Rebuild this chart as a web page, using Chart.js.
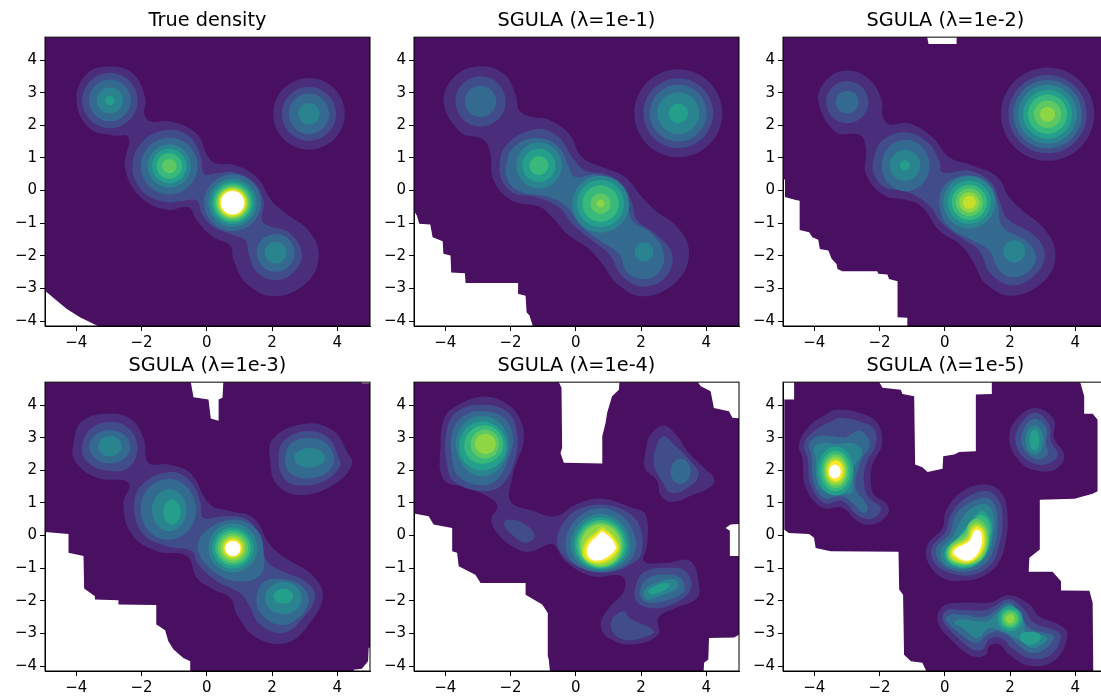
<!DOCTYPE html>
<html>
<head>
<meta charset="utf-8">
<title>SGULA densities</title>
<script src="https://cdn.jsdelivr.net/npm/chart.js@4"></script>
<style>
  html, body { margin: 0; padding: 0; background: #fff; width: 1101px; height: 698px; overflow: hidden; }
  canvas { position: absolute; }
</style>
</head>
<body>
<canvas id="c0" style="left:0;top:0"></canvas>
<canvas id="c1" style="left:369px;top:0"></canvas>
<canvas id="c2" style="left:738px;top:0"></canvas>
<canvas id="c3" style="left:0;top:345px"></canvas>
<canvas id="c4" style="left:369px;top:345px"></canvas>
<canvas id="c5" style="left:738px;top:345px"></canvas>
<script>
const panelTitles = ['True density', 'SGULA (λ=1e-1)', 'SGULA (λ=1e-2)', 'SGULA (λ=1e-3)', 'SGULA (λ=1e-4)', 'SGULA (λ=1e-5)'];
const xTicks = [-4, -2, 0, 2, 4];
const yTicks = [-4, -3, -2, -1, 0, 1, 2, 3, 4];

// band colours, index = contour level (last one is above the top level, so white)
const levelColors = ['#490f60', '#4a2d7b', '#414c8b', '#346a90', '#2a8490', '#239f8b', '#39b87b', '#5ec962', '#8fd644', '#c5e02a', '#fce72b', '#ffffff'];

const edge0 = [-5.1,4.8, 5.1,4.8, 5.1,-4.3, -3.34,-4.3, -3.34,-4.15, -3.89,-3.88, -4.29,-3.63, -4.66,-3.32, -4.95,-3.08, -5.1,-2.96];
const edge1 = [-5.1,4.8, 5.1,4.8, 5.1,-4.3, -1.32,-4.3, -1.32,-4.15, -1.42,-3.83, -1.51,-3.73, -1.54,-3.22, -1.75,-3.17, -1.77,-2.83, -3.38,-2.83, -3.40,-2.53, -3.82,-2.51, -3.84,-1.99, -4.06,-1.94, -4.08,-1.55, -4.39,-1.43, -4.46,-1.04, -4.80,-1.02, -4.87,-.77, -4.94,-.66, -5.1,-.66];
const edge2 = [-5.1,4.8, -.56,4.8, -.50,4.49, .36,4.49, .36,4.8, 5.2,4.8, 5.2,-4.3, -1.15,-4.3, -1.15,-3.9, -1.45,-3.88, -1.45,-2.78, -1.71,-2.71, -1.76,-2.57, -2.04,-2.55, -2.07,-2.47, -3.14,-2.47, -3.29,-2.40, -3.32,-2.25, -3.47,-2.09, -3.57,-1.84, -3.83,-1.79, -3.88,-1.51, -4.06,-1.43, -4.16,-1.28, -4.45,-1.21, -4.45,-.31, -4.57,-.29, -4.90,-.20, -4.90,.34, -5.1,.34];
const edge3 = [-5.1,4.8, -.51,4.8, -.41,4.24, .05,4.17, .12,3.59, .36,3.52, .36,4.17, .48,4.22, .51,4.8, 4.75,4.8, 4.75,4.67, 5.1,4.67, 5.1,-3.44, 4.96,-3.44, 4.94,-3.85, 4.75,-4.08, 4.50,-4.11, 4.48,-4.3, -.49,-4.3, -.51,-3.85, -.72,-3.75, -1.02,-3.49, -1.18,-3.24, -1.28,-2.90, -1.53,-2.73, -1.55,-2.13, -2.71,-2.11, -2.71,-1.98, -3.43,-1.96, -3.43,-1.86, -3.76,-1.62, -3.78,-.63, -4.24,-.53, -4.24,.05, -4.95,.11, -5.1,.11];
const edge4 = [-5.1,4.8, -.57,4.8, -.44,4.53, -.42,2.69, -.47,2.53, -.37,2.23, .81,2.21, .81,3.04, .91,3.45, .96,3.76, 1.11,4.27, 1.32,4.47, 1.34,4.8, 3.67,4.8, 3.82,4.58, 4.13,4.42, 4.23,3.91, 4.69,3.81, 4.80,3.61, 5.1,3.59, 5.1,.36, 4.74,.34, 4.59,.23, 4.72,.15, 4.72,-.63, 5.1,-.63, 5.1,-2.98, 4.85,-3.12, 4.08,-3.14, 4.06,-3.80, 3.93,-3.90, 3.91,-4.3, -.78,-4.3, -.83,-3.80, -.86,-3.70, -.86,-2.37, -1.03,-2.11, -1.54,-1.81, -1.54,-1.45, -2.92,-1.45, -3.08,-1.20, -3.59,-.94, -3.64,-.53, -3.79,-.48, -3.79,.23, -4.36,.34, -4.51,.59, -4.92,.67, -5.1,.67];
const edge5 = [-4.62,4.8, -2.07,4.8, -1.91,4.53, -1.35,4.47, -1.30,4.34, -.94,4.27, -.91,2.18, -.69,2.09, -.53,1.95, -.07,2.05, -.05,2.43, .29,2.48, .44,2.56, .93,2.58, .95,4.32, 1.44,4.34, 1.44,4.8, 4.12,4.8, 4.27,4.27, 4.27,3.73, 4.53,3.73, 4.68,3.55, 4.68,1.36, 4.53,1.28, 3.97,1.13, 2.91,1.10, 2.91,-.43, 2.59,-.68, 2.57,-1.11, 3.30,-1.11, 3.56,-1.40, 3.56,-1.68, 4.43,-1.69, 4.53,-2.06, 4.55,-4.3, -.50,-4.3, -.69,-3.90, -1.04,-3.85, -1.25,-3.65, -1.28,-1.81, -1.40,-1.65, -1.42,-.50, -3.50,-.48, -3.96,-.38, -4.01,-.07, -4.16,.05, -4.78,.08, -4.92,.18, -4.92,4.17, -4.62,4.17];

// contours: first number is the level, the rest are x,y pairs going round the contour
const contours0 = [
  [1, -2.97,3.80, -2.25,3.58, -1.88,2.81, -1.92,2.35, -1.74,2.12, -1.12,2.12, -.31,1.74, .05,1.02, .31,.82, .82,.80, 1.53,.41, 1.99,-.31, 2.45,-.72, 3.12,-1.23, 3.43,-1.94, 3.12,-2.76, 2.10,-3.24, 1.23,-2.86, .82,-2.14, .72,-1.69, .20,-1.43, -.31,-.92, -.56,-.51, -1.23,-.59, -2.04,-.20, -2.51,.71, -2.40,1.63, -2.86,1.69, -3.58,1.89, -4.0,2.76, -3.68,3.58],
  [2, -1.15,1.86, -.51,1.63, -.18,1.02, -.08,.51, .31,.53, .82,.56, 1.43,.26, 1.74,-.31, 1.69,-.92, 1.94,-1.10, 2.51,-1.28, 2.91,-1.91, 2.66,-2.50, 2.11,-2.74, 1.53,-2.50, 1.28,-1.94, 1.18,-1.53, .72,-1.33, .20,-1.12, -.15,-.72, -.31,-.31, -.82,-.33, -1.23,-.36, -1.94,-.05, -2.28,.71, -1.94,1.53],
  [2, -2.12,2.76, -2.97,3.61, -3.82,2.76, -2.97,1.91],
  [3, -2.33,2.76, -2.97,3.40, -3.61,2.76, -2.97,2.12],
  [4, -2.57,2.76, -2.97,3.16, -3.37,2.76, -2.97,2.36],
  [5, -2.83,2.76, -2.97,2.90, -3.11,2.76, -2.97,2.62],
  [1, 4.23,2.35, 3.13,3.45, 2.03,2.35, 3.13,1.25],
  [2, 3.96,2.35, 3.13,3.18, 2.30,2.35, 3.13,1.52],
  [3, 3.75,2.35, 3.13,2.97, 2.51,2.35, 3.13,1.73],
  [4, 3.46,2.35, 3.13,2.68, 2.80,2.35, 3.13,2.02],
  [3, -.28,.75, -1.15,1.62, -2.02,.75, -1.15,-.12],
  [4, -.49,.75, -1.15,1.41, -1.81,.75, -1.15,.09],
  [5, -.62,.75, -1.15,1.28, -1.68,.75, -1.15,.22],
  [6, -.76,.75, -1.15,1.14, -1.54,.75, -1.15,.36],
  [7, -.93,.75, -1.15,.97, -1.37,.75, -1.15,.53],
  [3, 2.69,-1.91, 2.11,-1.33, 1.53,-1.91, 2.11,-2.49],
  [4, 2.44,-1.91, 2.11,-1.58, 1.78,-1.91, 2.11,-2.24],
  [3, 1.66,-.37, .79,.50, -.08,-.37, .79,-1.24],
  [4, 1.53,-.37, .79,.37, .05,-.37, .79,-1.11],
  [5, 1.44,-.37, .79,.28, .14,-.37, .79,-1.02],
  [6, 1.37,-.37, .79,.21, .21,-.37, .79,-.95],
  [7, 1.31,-.37, .79,.15, .27,-.37, .79,-.89],
  [8, 1.26,-.37, .79,.10, .32,-.37, .79,-.84],
  [9, 1.22,-.37, .79,.06, .36,-.37, .79,-.80],
  [10, 1.18,-.37, .79,.02, .40,-.37, .79,-.76],
  [11, 1.15,-.37, .79,-.01, .43,-.37, .79,-.73],
];
const contours1 = [
  [1, -2.92,3.81, -2.21,3.58, -1.85,2.96, -1.73,2.45, -1.34,2.25, -.83,2.17, -.21,1.74, .19,1.02, .91,.68, 1.52,.41, 2.03,-.20, 2.44,-.61, 3.11,-1.12, 3.47,-1.89, 3.11,-2.76, 2.09,-3.24, 1.27,-2.86, .81,-2.25, .40,-1.79, -.21,-1.38, -.73,-.82, -1.13,-.49, -1.95,-.31, -2.52,.31, -2.64,1.23, -2.87,1.58, -3.54,1.79, -4.05,2.71, -3.69,3.52],
  [2, -2.15,2.73, -2.92,3.50, -3.69,2.73, -2.92,1.96],
  [3, -2.44,2.73, -2.92,3.21, -3.40,2.73, -2.92,2.25],
  [1, 4.49,2.37, 3.14,3.72, 1.79,2.37, 3.14,1.02],
  [2, 4.21,2.37, 3.14,3.44, 2.07,2.37, 3.14,1.30],
  [3, 4.01,2.37, 3.14,3.24, 2.27,2.37, 3.14,1.50],
  [4, 3.78,2.37, 3.14,3.01, 2.50,2.37, 3.14,1.73],
  [5, 3.44,2.37, 3.14,2.67, 2.84,2.37, 3.14,2.07],
  [2, -1.17,1.89, -.52,1.63, -.11,1.02, .30,.61, .91,.51, 1.42,.20, 1.73,-.41, 1.88,-.92, 2.44,-1.33, 2.95,-1.94, 2.75,-2.66, 2.09,-2.94, 1.43,-2.63, 1.01,-1.94, .50,-1.53, -.11,-1.02, -.52,-.51, -1.24,-.20, -1.85,-.10, -2.20,.20, -2.34,.76, -2.10,1.43],
  [3, -1.16,1.61, -.52,1.33, -.21,.72, -.01,.41, .60,.49, 1.21,.26, 1.57,-.31, 1.73,-.92, 2.34,-1.33, 2.70,-1.94, 2.55,-2.50, 2.09,-2.71, 1.57,-2.50, 1.32,-1.94, .81,-1.58, .19,-1.12, -.27,-.51, -.83,-.20, -1.65,-.05, -2.05,.26, -2.13,.82, -1.85,1.38],
  [4, 2.38,-1.88, 2.09,-1.59, 1.80,-1.88, 2.09,-2.17],
  [4, -.43,.77, -1.13,1.47, -1.83,.77, -1.13,.07],
  [5, -.62,.77, -1.13,1.28, -1.64,.77, -1.13,.26],
  [6, -.84,.77, -1.13,1.06, -1.42,.77, -1.13,.48],
  [4, 1.63,-.42, .76,.45, -.11,-.42, .76,-1.29],
  [5, 1.48,-.40, .76,.32, .04,-.40, .76,-1.12],
  [6, 1.32,-.40, .76,.16, .20,-.40, .76,-.96],
  [7, 1.07,-.40, .76,-.09, .45,-.40, .76,-.71],
  [8, .88,-.40, .76,-.28, .64,-.40, .76,-.52],
];
const contours2 = [
  [1, -2.99,3.68, -2.32,3.42, -1.93,2.76, -1.91,2.30, -1.71,2.04, -1.09,2.06, -.38,1.63, .13,1.02, .85,.77, 1.62,.41, 1.97,-.20, 2.38,-.61, 3.00,-1.12, 3.38,-1.84, 3.15,-2.66, 2.13,-3.22, 1.26,-2.86, .85,-2.15, .44,-1.63, -.17,-1.23, -.69,-.51, -1.20,-.28, -1.86,-.15, -2.42,.51, -2.42,1.23, -2.58,1.69, -3.34,1.79, -3.88,2.76, -3.60,3.42],
  [2, -2.34,2.71, -2.99,3.36, -3.64,2.71, -2.99,2.06],
  [3, -2.64,2.71, -2.99,3.06, -3.34,2.71, -2.99,2.36],
  [1, 4.58,2.34, 3.15,3.77, 1.72,2.34, 3.15,.91],
  [2, 4.35,2.34, 3.15,3.54, 1.95,2.34, 3.15,1.14],
  [3, 4.20,2.34, 3.15,3.39, 2.10,2.34, 3.15,1.29],
  [4, 4.05,2.34, 3.15,3.24, 2.25,2.34, 3.15,1.44],
  [5, 3.90,2.34, 3.15,3.09, 2.40,2.34, 3.15,1.59],
  [6, 3.75,2.34, 3.15,2.94, 2.55,2.34, 3.15,1.74],
  [7, 3.57,2.34, 3.15,2.76, 2.73,2.34, 3.15,1.92],
  [8, 3.38,2.34, 3.15,2.57, 2.92,2.34, 3.15,2.11],
  [2, -1.20,1.79, -.53,1.48, -.17,.92, -.07,.56, .75,.61, 1.41,.26, 1.67,-.31, 1.93,-.87, 2.69,-1.33, 3.05,-1.84, 2.89,-2.45, 2.13,-2.91, 1.41,-2.55, 1.05,-1.84, .54,-1.48, -.07,-1.02, -.53,-.41, -1.20,-.02, -1.81,.08, -2.17,.51, -2.17,1.02, -1.91,1.53],
  [3, -.47,.77, -1.2,1.56, -1.93,.77, -1.2,-.02],
  [3, .75,.46, 1.36,.20, 1.62,-.41, 1.77,-1.12, 2.48,-1.53, 2.79,-2.04, 2.59,-2.45, 2.13,-2.66, 1.67,-2.45, 1.36,-1.84, .85,-1.53, .13,-1.12, -.17,-.41, .03,.20],
  [4, 2.47,-1.86, 2.13,-1.52, 1.79,-1.86, 2.13,-2.2],
  [4, -.75,.77, -1.22,1.24, -1.69,.77, -1.22,.30],
  [5, -1.07,.77, -1.22,.92, -1.37,.77, -1.22,.62],
  [4, 1.55,-.36, .75,.44, -.05,-.36, .75,-1.16],
  [5, 1.41,-.36, .75,.30, .09,-.36, .75,-1.02],
  [6, 1.29,-.36, .75,.18, .21,-.36, .75,-.90],
  [7, 1.17,-.36, .75,.06, .33,-.36, .75,-.78],
  [8, 1.06,-.36, .75,-.05, .44,-.36, .75,-.67],
  [9, .95,-.36, .75,-.16, .55,-.36, .75,-.56],
];
const contours3 = [
  [1, -2.97,3.74, -2.30,3.55, -1.94,2.99, -1.79,2.23, -1.18,2.18, -.51,1.92, .10,.95, .72,.75, 1.43,.54, 1.94,-.28, 2.40,-.68, 3.22,-1.20, 3.56,-1.86, 3.12,-2.73, 2.45,-3.29, 1.53,-3.14, .92,-2.42, .72,-1.91, .20,-1.65, -.31,-1.30, -.61,-.63, -1.53,-.48, -2.30,.03, -2.56,.95, -2.40,1.61, -3.37,1.77, -4.04,2.28, -4.09,2.79, -3.83,3.50],
  [1, 3.07,3.43, 3.89,3.20, 4.29,2.58, 4.45,2.18, 3.89,1.56, 2.86,1.24, 2.15,1.56, 1.94,2.28, 2.04,2.99],
  [2, 3.07,3.20, 3.73,2.99, 4.04,2.38, 4.09,2.12, 3.58,1.66, 2.76,1.54, 2.35,1.77, 2.20,2.38, 2.35,2.89],
  [3, 3.12,2.99, 3.63,2.84, 3.89,2.38, 3.73,1.97, 3.12,1.75, 2.56,1.92, 2.40,2.38, 2.61,2.84],
  [4, 3.62,2.38, 3.15,2.68, 2.68,2.38, 3.15,2.08],
  [2, -2.97,3.48, -2.41,3.30, -2.13,2.69, -2.41,2.07, -3.07,1.99, -3.63,2.23, -3.83,2.64, -3.58,3.25],
  [3, -2.34,2.72, -2.97,3.23, -3.60,2.72, -2.97,2.21],
  [4, -2.61,2.74, -2.97,3.05, -3.33,2.74, -2.97,2.43],
  [2, -1.12,1.95, -.51,1.66, -.20,1.05, -.10,.54, .51,.59, 1.23,.49, 1.64,-.07, 1.84,-.79, 2.35,-1.11, 3.02,-1.40, 3.32,-1.86, 2.91,-2.57, 2.35,-2.98, 1.64,-2.73, 1.28,-2.11, 1.02,-1.76, .31,-1.40, -.26,-.89, -.46,-.48, -1.23,-.33, -1.94,.03, -2.23,.85, -1.99,1.56],
  [3, -.33,.80, -1.18,1.73, -2.03,.80, -1.18,-.13],
  [4, -.62,.78, -1.15,1.42, -1.68,.78, -1.15,.13],
  [5, -.80,.72, -1.07,1.10, -1.34,.72, -1.07,.34],
  [3, .82,.49, 1.53,.18, 1.74,-.48, 1.64,-1.20, .92,-1.40, .20,-1.09, -.26,-.48, -.10,.08],
  [4, 1.55,-.38, .80,.37, .05,-.38, .80,-1.13],
  [5, 1.43,-.38, .80,.25, .17,-.38, .80,-1.01],
  [6, 1.34,-.38, .80,.16, .26,-.38, .80,-.92],
  [7, 1.26,-.38, .80,.08, .34,-.38, .80,-.84],
  [8, 1.18,-.38, .80,0, .42,-.38, .80,-.76],
  [9, 1.11,-.38, .80,-.07, .49,-.38, .80,-.69],
  [10, 1.07,-.38, .80,-.11, .53,-.38, .80,-.65],
  [11, 1.03,-.40, .80,-.17, .57,-.40, .80,-.63],
  [3, 2.35,-1.35, 2.91,-1.55, 3.12,-2.01, 2.76,-2.57, 2.20,-2.73, 1.64,-2.37, 1.53,-1.86, 1.79,-1.40],
  [4, 2.91,-1.91, 2.35,-1.42, 1.79,-1.91, 2.35,-2.40],
  [5, 2.65,-1.86, 2.35,-1.63, 2.05,-1.86, 2.35,-2.09],
];
const contours4 = [
  [1, -2.87,4.25, -2.16,4.07, -1.70,3.55, -1.60,2.89, -1.80,2.28, -1.95,1.77, -2.00,1.05, -1.34,.77, -.62,.59, -.01,.95, .81,1.13, 1.73,.85, 2.14,.64, 2.19,-.28, 2.09,-.79, 2.75,-.84, 3.52,-.79, 3.79,-1.65, 3.67,-1.96, 3.06,-2.22, 2.53,-2.52, 2.53,-3.03, 1.73,-3.34, 1.01,-3.14, .76,-2.73, 1.01,-2.22, 1.47,-1.71, 1.42,-1.25, .50,-1.25, -.32,-.79, -.67,-.28, -.88,-.28, -1.44,-.50, -1.95,-.33, -2.41,.08, -2.59,.49, -2.41,.90, -2.62,1.15, -3.28,1.46, -4.05,1.72, -4.15,2.79, -4.00,3.66, -3.59,4.01],
  [0, -.66,.15, -.76,.35, -.86,.15, -.76,-.05],
  [1, 2.70,3.37, 3.11,3.04, 3.42,2.58, 3.93,2.07, 4.25,1.72, 4.08,1.46, 3.61,1.26, 2.95,1.03, 2.60,1.23, 2.49,1.68, 2.12,2.07, 2.16,2.69, 2.29,3.09],
  [2, 2.70,3.04, 3.01,2.79, 3.52,2.28, 3.77,1.87, 3.42,1.46, 2.90,1.31, 2.65,1.66, 2.39,2.18, 2.49,2.79],
  [3, 3.52,1.97, 3.21,2.35, 2.90,1.97, 3.21,1.59],
  [2, -2.87,4.01, -2.06,3.76, -1.80,3.09, -1.85,2.38, -2.26,1.56, -2.87,1.36, -3.74,1.66, -3.95,2.18, -3.98,3.09, -3.69,3.76],
  [3, -2.87,3.81, -2.21,3.61, -1.93,3.04, -2.06,2.38, -2.41,1.72, -2.92,1.54, -3.59,1.82, -3.79,2.38, -3.79,3.15, -3.44,3.66],
  [4, -2.06,2.80, -2.87,3.66, -3.67,2.80, -2.87,1.82],
  [5, -2.12,2.72, -2.87,3.50, -3.58,2.72, -2.87,2.00],
  [6, -2.22,2.78, -2.82,3.38, -3.42,2.75, -2.85,2.20],
  [7, -2.35,2.80, -2.78,3.25, -3.22,2.80, -2.78,2.36],
  [8, -2.45,2.81, -2.77,3.12, -3.09,2.81, -2.77,2.50],
  [2, -2.06,.49, -1.54,.34, -1.26,-.02, -1.54,-.22, -1.90,-.02, -2.21,.34],
  [2, .81,.95, 1.52,.75, 1.93,.34, 2.04,-.38, 1.83,-.79, 1.01,-1.13, .19,-1.00, -.42,-.58, -.57,-.07, -.27,.54, .19,.85],
  [3, 1.85,-.28, .76,.84, -.32,-.28, .76,-1.12],
  [4, 1.68,-.30, .76,.66, -.16,-.30, .76,-1.07],
  [5, 1.58,-.30, .76,.56, -.05,-.30, .76,-1.03],
  [6, 1.50,-.30, .76,.48, .02,-.30, .76,-1.00],
  [7, 1.43,-.30, .76,.40, .09,-.30, .76,-.97],
  [8, 1.38,-.33, .76,.34, .15,-.33, .76,-.93],
  [9, .85,.25, 1.33,-.33, 1.08,-.74, .60,-.87, .23,-.66, .27,-.22, .60,.10],
  [10, .84,.18, 1.28,-.33, 1.05,-.69, .60,-.82, .29,-.62, .33,-.25, .62,.04],
  [11, .83,.11, 1.22,-.33, 1.01,-.63, .60,-.77, .35,-.58, .40,-.28, .65,-.02],
  [2, 2.75,-.99, 3.36,-1.09, 3.52,-1.65, 2.95,-2.11, 2.24,-2.22, 1.83,-1.96, 1.88,-1.40, 2.14,-1.09],
  [3, 2.75,-1.20, 3.21,-1.30, 3.31,-1.71, 2.85,-1.96, 2.24,-2.06, 1.98,-1.86, 2.03,-1.50, 2.34,-1.25],
  [4, 3.06,-1.35, 3.11,-1.60, 2.55,-1.86, 2.19,-1.96, 2.09,-1.70, 2.44,-1.45],
  [5, 2.80,-1.45, 2.85,-1.58, 2.34,-1.81, 2.22,-1.70, 2.44,-1.55],
  [2, 1.47,-2.32, 1.63,-2.52, 2.39,-2.93, 2.04,-3.14, 1.47,-3.19, 1.11,-2.93, 1.11,-2.57],
];
const contours5 = [
  [1, -3.29,3.86, -2.63,3.76, -2.07,3.45, -1.93,2.79, -2.22,2.18, -2.27,1.66, -2.17,1.26, -1.76,.95, -1.76,.64, -2.22,.34, -2.68,.44, -3.14,.85, -3.75,.85, -4.26,1.46, -4.37,2.38, -4.47,2.79, -4.16,3.35, -3.65,3.71],
  [2, -3.24,3.61, -2.63,3.50, -2.17,3.25, -2.12,2.79, -2.42,2.18, -2.47,1.56, -2.32,1.15, -1.96,.85, -2.17,.54, -2.63,.59, -3.14,1.05, -3.70,1.00, -4.11,1.56, -4.21,2.38, -4.32,2.79, -4.01,3.20, -3.39,3.55],
  [3, -2.58,3.20, -2.30,2.79, -2.58,2.28, -2.73,1.46, -2.37,.90, -2.47,.69, -2.83,1.00, -3.19,1.21, -3.70,1.15, -4.01,1.61, -4.09,2.48, -4.16,2.79, -3.91,3.04, -3.39,3.04, -3.04,3.01],
  [4, -2.73,2.79, -2.53,2.58, -2.83,1.97, -2.83,1.36, -3.14,1.26, -3.65,1.31, -3.91,1.66, -3.96,2.38, -4.01,2.69, -3.70,2.84, -3.34,2.79, -2.93,2.84],
  [5, -2.80,1.98, -3.35,2.73, -3.90,1.98, -3.35,1.23],
  [6, -2.89,1.98, -3.35,2.60, -3.81,1.98, -3.35,1.36],
  [7, -2.97,1.98, -3.35,2.50, -3.73,1.98, -3.35,1.46],
  [8, -3.02,1.98, -3.35,2.42, -3.68,1.98, -3.35,1.54],
  [9, -3.07,1.98, -3.35,2.34, -3.63,1.98, -3.35,1.62],
  [10, -3.12,1.98, -3.35,2.29, -3.58,1.98, -3.35,1.67],
  [11, -3.19,1.96, -3.37,2.17, -3.55,1.96, -3.37,1.75],
  [1, 2.79,3.91, 3.35,3.55, 3.35,2.99, 3.66,2.48, 3.46,2.07, 2.89,1.97, 2.28,2.28, 1.97,2.99, 2.23,3.61],
  [2, 2.77,3.76, 3.20,3.40, 3.25,2.89, 3.46,2.48, 3.25,2.23, 2.84,2.18, 2.38,2.43, 2.16,2.94, 2.34,3.45],
  [3, 2.77,3.58, 3.10,3.30, 3.10,2.79, 3.15,2.48, 2.84,2.33, 2.48,2.58, 2.33,2.94, 2.47,3.35],
  [4, 3.03,2.92, 2.75,3.37, 2.47,2.92, 2.75,2.48],
  [5, 2.90,2.93, 2.75,3.25, 2.60,2.93, 2.75,2.60],
  [1, 1.31,1.56, 1.77,1.26, 1.92,.64, 1.87,-.17, 1.67,-.79, 1.26,-1.20, .64,-1.38, -.07,-1.30, -.53,-.79, -.53,-.28, -.07,.23, .03,.75, .54,1.36],
  [2, 1.31,1.36, 1.67,1.05, 1.77,.54, 1.67,-.28, 1.41,-.89, .85,-1.20, .24,-1.17, -.28,-.89, -.40,-.38, .03,.13, .18,.64, .64,1.15],
  [3, 1.31,1.15, 1.56,.85, 1.62,.34, 1.51,-.38, 1.21,-.89, .70,-1.10, .08,-1.00, -.22,-.72, -.26,-.38, .13,.03, .34,.64, .75,1.0],
  [4, 1.26,.95, 1.48,.64, 1.48,.03, 1.31,-.58, .95,-.92, .44,-1.03, -.02,-.85, -.12,-.45, .23,-.05, .54,.54, .85,.85],
  [5, 1.16,.75, 1.42,.44, 1.42,-.07, 1.20,-.65, .78,-.98, .29,-.93, .03,-.75, .01,-.42, .34,-.12, .70,.34, .95,.64],
  [6, 1.14,.62, 1.37,.35, 1.35,-.12, 1.17,-.66, .74,-.94, .27,-.90, .07,-.72, .06,-.42, .38,-.10, .72,.26, .92,.52],
  [7, 1.05,.50, 1.32,.15, 1.22,-.60, .72,-.90, .13,-.74, .13,-.34, .62,.08, .76,.40],
  [8, 1.03,.40, 1.27,.10, 1.18,-.55, .72,-.87, .17,-.72, .18,-.36, .65,-.02, .78,.30],
  [9, 1.02,.32, 1.23,.07, 1.15,-.50, .72,-.84, .20,-.68, .22,-.38, .68,-.08, .82,.23],
  [10, 1.02,.26, 1.19,.05, 1.11,-.52, .71,-.81, .24,-.62, .26,-.40, .72,-.13, .85,.18],
  [11, 1.00,.18, 1.13,.03, 1.05,-.48, .70,-.77, .29,-.58, .31,-.43, .75,-.17, .90,.13],
  [1, .44,-2.06, 1.36,-2.06, 1.97,-1.83, 2.59,-2.11, 2.89,-2.47, 3.51,-2.73, 3.76,-3.03, 3.40,-3.80, 2.64,-4.00, 1.97,-3.65, 1.67,-3.34, 1.36,-3.39, 1.26,-3.65, .85,-3.70, .24,-3.24, -.22,-2.63, -.07,-2.17],
  [2, .44,-2.27, 1.26,-2.27, 1.97,-1.95, 2.43,-2.27, 2.74,-2.68, 3.35,-2.89, 3.56,-3.08, 3.25,-3.65, 2.64,-3.77, 2.08,-3.47, 1.72,-3.13, 1.36,-3.18, 1.16,-3.49, .85,-3.49, .34,-3.08, -.07,-2.57, .08,-2.27],
  [3, .44,-2.42, 1.26,-2.47, 1.97,-2.05, 2.33,-2.47, 2.59,-2.83, 3.25,-3.03, 3.35,-3.13, 3.05,-3.49, 2.64,-3.59, 2.18,-3.29, 1.77,-2.93, 1.31,-3.03, 1.0,-3.29, .44,-2.99, .03,-2.57, .18,-2.42],
  [4, .44,-2.57, .95,-2.62, 1.31,-2.62, 1.97,-2.13, 2.40,-2.57, 2.50,-2.99, 3.10,-3.08, 3.05,-3.29, 2.64,-3.44, 2.33,-3.23, 1.82,-2.98, 1.36,-2.83, 1.0,-3.13, .54,-2.83, .29,-2.68],
  [5, 2.38,-2.55, 2.0,-2.17, 1.62,-2.55, 2.0,-2.93],
  [6, 2.29,-2.55, 2.0,-2.26, 1.71,-2.55, 2.0,-2.84],
  [7, 2.22,-2.55, 2.0,-2.33, 1.78,-2.55, 2.0,-2.77],
  [8, 2.14,-2.55, 2.0,-2.41, 1.86,-2.55, 2.0,-2.69],
  [5, 2.95,-3.10, 2.60,-2.95, 2.30,-3.10, 2.60,-3.35],
];

const panelEdges = [edge0, edge1, edge2, edge3, edge4, edge5];
const panelContours = [contours0, contours1, contours2, contours3, contours4, contours5];

function toPoints(flat) {
  const pts = [];
  for (let i = 0; i < flat.length; i += 2) {
    pts.push({ x: flat[i], y: flat[i + 1] });
  }
  return pts;
}

function shapeDataset(points, color, tension) {
  return {
    data: points,
    showLine: true,
    fill: 'shape',
    backgroundColor: color,
    borderWidth: 0,
    pointRadius: 0,
    tension: tension,
  };
}

function contourDataset(row) {
  const pts = toPoints(row.slice(1));
  // overlap the ends a little so the spline has no kink where the loop closes
  const wrapped = [pts[pts.length - 1], ...pts, pts[0], pts[1]];
  return shapeDataset(wrapped, levelColors[row[0]], pts.length === 4 ? 0.55 : 0.4);
}

// Chart.js has no all-round frame, so draw the four spines here
const spines = {
  id: 'spines',
  afterDraw(chart) {
    const { ctx, chartArea: a } = chart;
    ctx.save();
    ctx.strokeStyle = '#000';
    ctx.lineWidth = 1;
    ctx.strokeRect(a.left, a.top, a.right - a.left, a.bottom - a.top);
    ctx.restore();
  },
};

function axis(position, min, max, ticks, fitSide, fitSize) {
  return {
    type: 'linear',
    position: position,
    min: min,
    max: max,
    afterBuildTicks: (scale) => { scale.ticks = ticks.map((v) => ({ value: v })); },
    afterFit: (scale) => { scale[fitSide] = fitSize; },
    border: { color: '#000', width: 1 },
    grid: { drawOnChartArea: false, tickLength: 5, tickColor: '#000', tickWidth: 1 },
    ticks: {
      color: '#000',
      padding: 3,
      autoSkip: false,
      maxRotation: 0,
      font: { family: 'DejaVu Sans', size: 15 },
      callback: (v) => (v < 0 ? '\u2212' + Math.abs(v) : String(v)),
    },
  };
}

panelTitles.forEach((title, i) => {
  const levels = panelContours[i].slice().sort((a, b) => a[0] - b[0]);
  const datasets = [shapeDataset(toPoints(panelEdges[i]), levelColors[0], 0)];
  levels.forEach((row) => datasets.push(contourDataset(row)));
  datasets.reverse(); // first dataset is painted last

  const canvas = document.getElementById('c' + i);
  canvas.width = 372;
  canvas.height = 356;
  new Chart(canvas, {
    type: 'scatter',
    data: { datasets: datasets },
    options: {
      responsive: false,
      animation: false,
      layout: { padding: { right: 2 } },
      plugins: {
        legend: { display: false },
        tooltip: { enabled: false },
        title: {
          display: true,
          text: title,
          fullSize: false,
          color: '#000',
          font: { family: 'DejaVu Sans', size: 19.3, weight: 'normal' },
          padding: { top: 9, bottom: 5 },
        },
      },
      scales: {
        x: axis('bottom', -4.96, 5, xTicks, 'height', 30),
        y: axis('left', -4.15, 4.7, yTicks, 'width', 45),
      },
    },
    plugins: [spines],
  });
});
</script>
</body>
</html>
